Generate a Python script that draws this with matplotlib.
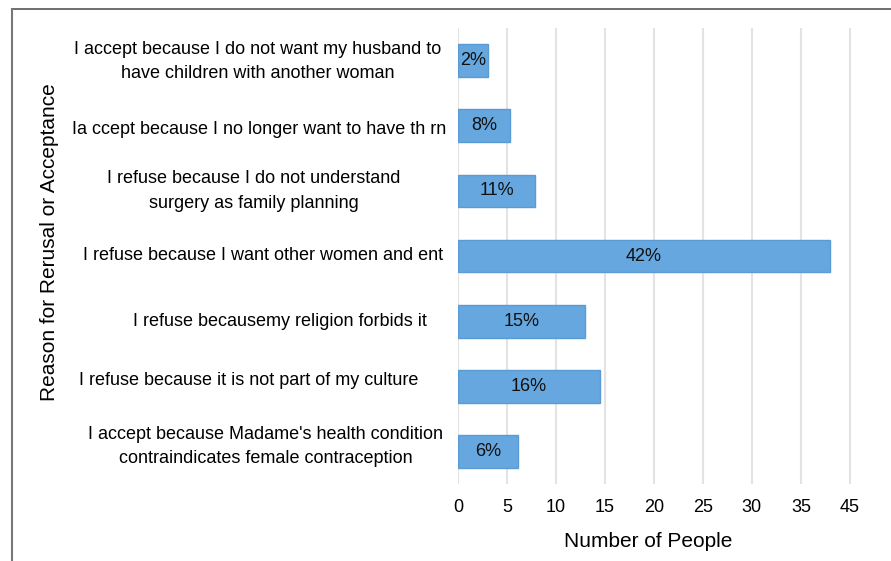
import matplotlib
matplotlib.use("Agg")
import matplotlib.pyplot as plt
from matplotlib.lines import Line2D
from matplotlib.transforms import blended_transform_factory, offset_copy

plt.rcParams['font.family'] = ['Liberation Sans', 'DejaVu Sans']

# data (top to bottom)
reasons = [
    "I accept because I do not want my husband to\nhave children with another woman",
    "Ia ccept because I no longer want to have th rn",
    "I refuse because I do not understand\nsurgery as family planning",
    "I refuse because I want other women and ent",
    "I refuse becausemy religion forbids it",
    "I refuse because it is not part of my culture",
    "I accept because Madame's health condition\ncontraindicates female contraception",
]
people = [3.1, 5.3, 7.9, 38.0, 13.0, 14.5, 6.1]
shares = ["2%", "8%", "11%", "42%", "15%", "16%", "6%"]
tick_pos = [0, 5, 10, 15, 20, 25, 30, 35, 40]
tick_labels = ["0", "5", "10", "15", "20", "25", "30", "35", "45"]

# the category labels are centred text boxes, not quite lined up
label_centre_px = [258, 259, 254, 263, 280, 249, 266]
label_shift_px = [-1, -4, 0, 1, 0, 6, 5]   # positive = up

fig = plt.figure(figsize=(8.91, 5.61), dpi=100)
ax = fig.add_axes([0.514, 0.137, 0.486, 0.813])

ypos = list(range(len(reasons)))
bars = ax.barh(ypos, people, height=0.5, color="#65A7DE",
               edgecolor="#5B9BD5", linewidth=1, zorder=3)
for b, s in zip(bars, shares):
    ax.text(b.get_x() + b.get_width() / 2, b.get_y() + b.get_height() / 2, s,
            ha="center", va="center", fontsize=13, color="#111111", zorder=4)

ax.set_xlim(0, 44.2)
ax.set_ylim(6.5, -0.5)
ax.set_xticks(tick_pos)
ax.set_xticklabels(tick_labels, fontsize=13)
ax.set_yticks(ypos)
ax.set_yticklabels([])
ax.tick_params(axis="x", length=0, pad=11)
ax.tick_params(axis="y", length=0)
ax.grid(axis="x", color="#E3E3E3", linewidth=1.5, zorder=0)
for sp in ax.spines.values():
    sp.set_visible(False)

trans = blended_transform_factory(ax.transAxes, ax.transData)
ax_w = 891 * 0.486
for y, txt, cx, dy in zip(ypos, reasons, label_centre_px, label_shift_px):
    tr = offset_copy(trans, fig=fig, y=dy * 0.72, units="points")
    ax.text((cx - 458) / ax_w, y, txt, transform=tr, ha="center",
            va="center", fontsize=13, linespacing=1.55, clip_on=False)

ax.set_xlabel("Number of People", fontsize=15, labelpad=8)
ax.xaxis.set_label_coords(0.439, -0.105)
fig.text(0.055, 0.569, "Reason for Rerusal or Acceptance", rotation=90,
         ha="center", va="center", fontsize=15)

# outer frame (top and left edges visible)
fig.add_artist(Line2D([12 / 891, 1], [1 - 9 / 561, 1 - 9 / 561],
                      color="#555555", linewidth=1.2))
fig.add_artist(Line2D([12 / 891, 12 / 891], [0, 1 - 9 / 561],
                      color="#777777", linewidth=1.5))

fig.savefig("out.png", dpi=100)
